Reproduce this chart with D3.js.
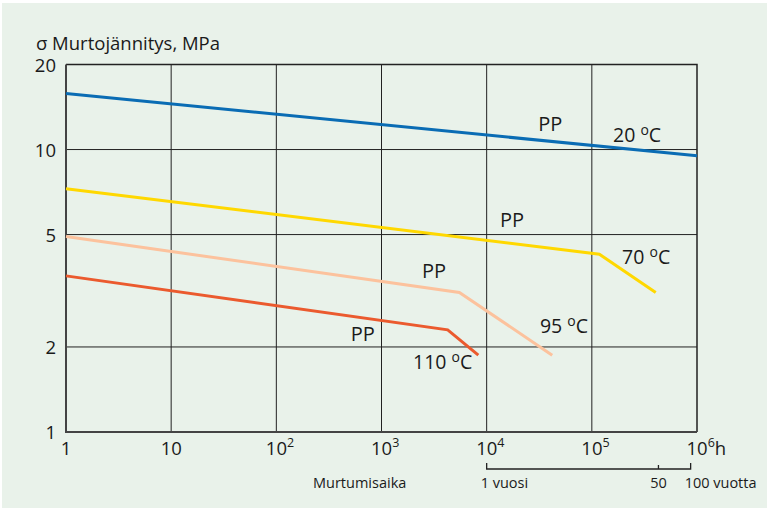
<!DOCTYPE html>
<html>
<head>
<meta charset="utf-8">
<script src="https://cdn.jsdelivr.net/npm/d3@7"></script>
<style>
  body { margin: 0; background: #fff; }
  text { font-family: "Open Sans", "DejaVu Sans", sans-serif; fill: #1a1a1a; }
</style>
</head>
<body>
<div id="chart"></div>
<script>
// hours, MPa
const pp20 = [[1, 15.8], [1e6, 9.5]]
const pp70 = [[1, 7.27], [1.18e5, 4.26], [4.05e5, 3.12]]
const pp95 = [[1, 4.92], [5500, 3.12], [42000, 1.87]]
const pp110 = [[1, 3.57], [4260, 2.3], [8330, 1.87]]
const xTicks = [1, 10, 100, 1e3, 1e4, 1e5, 1e6]
const xTickLabels = ["1", "10", "10|2", "10|3", "10|4", "10|5", "10|6|h"]
const yTicks = [1, 2, 5, 10, 20]
const yearMarks = [1e4, 4.3e5, 8.7e5]

let series = [
    { name: "20", pts: pp20, color: "#0a6cb4", label: [3.1e4, 11.6], tLabel: [1.59e5, 10.6] },
    { name: "70", pts: pp70, color: "#ffd800", label: [1.34e4, 5.32], tLabel: [1.94e5, 3.93] },
    { name: "95", pts: pp95, color: "#fcc29d", label: [2430, 3.51], tLabel: [3.21e4, 2.24] },
    { name: "110", pts: pp110, color: "#eb5a2e", label: [509, 2.1], tLabel: [1995, 1.67] }
]

let W = 769, H = 510
let svg = d3.select("#chart").append("svg")
    .attr("width", W).attr("height", H)

svg.append("rect")
    .attr("x", 2).attr("y", 3).attr("width", 765).attr("height", 505)
    .attr("fill", "#e9f2ea")

let x = d3.scaleLog().domain([1, 1e6]).range([66, 697])
let y = d3.scaleLog().domain([1, 20]).range([432, 64.5])

// grid
svg.selectAll("line.vg").data(xTicks.slice(1, -1)).join("line")
    .attr("x1", d => x(d)).attr("x2", d => x(d))
    .attr("y1", y(20)).attr("y2", y(1))
    .attr("stroke", "#222").attr("stroke-width", 1)
svg.selectAll("line.hg").data([2, 5, 10]).join("line")
    .attr("x1", x(1)).attr("x2", x(1e6))
    .attr("y1", d => y(d)).attr("y2", d => y(d))
    .attr("stroke", "#222").attr("stroke-width", 1)

// frame
svg.append("path")
    .attr("d", `M${x(1)},${y(20)}H${x(1e6)}V${y(1)}`)
    .attr("fill", "none").attr("stroke", "#222").attr("stroke-width", 1.5)
svg.append("path")
    .attr("d", `M${x(1)},${y(20)}V${y(1)}H${x(1e6)}`)
    .attr("fill", "none").attr("stroke", "#444").attr("stroke-width", 2)

// lines
let line = d3.line().x(d => x(d[0])).y(d => y(d[1]))
svg.selectAll("path.s").data(series).join("path")
    .attr("d", d => line(d.pts))
    .attr("fill", "none")
    .attr("stroke", d => d.color)
    .attr("stroke-width", 3)

// series labels
series.forEach(s => {
    svg.append("text")
        .attr("x", x(s.label[0])).attr("y", y(s.label[1]))
        .attr("font-size", 20).text("PP")
    let t = svg.append("text")
        .attr("x", x(s.tLabel[0])).attr("y", y(s.tLabel[1]))
        .attr("font-size", 19.5)
    t.append("tspan").text(s.name + " ")
    t.append("tspan").attr("font-size", 14).attr("dy", -7).text("o")
    t.append("tspan").attr("dy", 7).text("C")
})

// y ticks
svg.selectAll("text.yt").data(yTicks).join("text")
    .attr("x", 56).attr("y", d => y(d)).attr("dy", "0.38em")
    .attr("text-anchor", "end").attr("font-size", 18.5)
    .text(d => d)

// x ticks
xTickLabels.forEach((lab, i) => {
    let parts = lab.split("|")
    let t = svg.append("text")
        .attr("x", x(xTicks[i])).attr("y", 455)
        .attr("text-anchor", i == 0 ? "middle" : "start")
        .attr("dx", i == 0 ? 0 : -10.5)
        .attr("font-size", 18.5)
    t.append("tspan").text(parts[0])
    if (parts[1]) t.append("tspan").attr("font-size", 12.5).attr("dy", -8).text(parts[1])
    if (parts[2]) t.append("tspan").attr("dy", 8).text(parts[2])
})

// title
svg.append("text").attr("x", 36).attr("y", 49.5).attr("font-size", 18.5)
    .text("σ Murtojännitys, MPa")

// time bracket
let bx = yearMarks.map(d => x(d))
svg.append("path")
    .attr("d", `M${bx[0]},463V469H${bx[2]}V463M${bx[1]},469V465`)
    .attr("fill", "none").attr("stroke", "#222").attr("stroke-width", 1.3)
svg.append("text").attr("x", 313).attr("y", 488).attr("font-size", 14.5)
    .text("Murtumisaika")
svg.append("text").attr("x", bx[0] - 6).attr("y", 488).attr("font-size", 14.5)
    .text("1 vuosi")
svg.append("text").attr("x", bx[1]).attr("y", 488).attr("font-size", 14.5)
    .attr("text-anchor", "middle").text("50")
svg.append("text").attr("x", bx[2] - 6).attr("y", 488).attr("font-size", 14.5)
    .text("100 vuotta")
</script>
</body>
</html>
